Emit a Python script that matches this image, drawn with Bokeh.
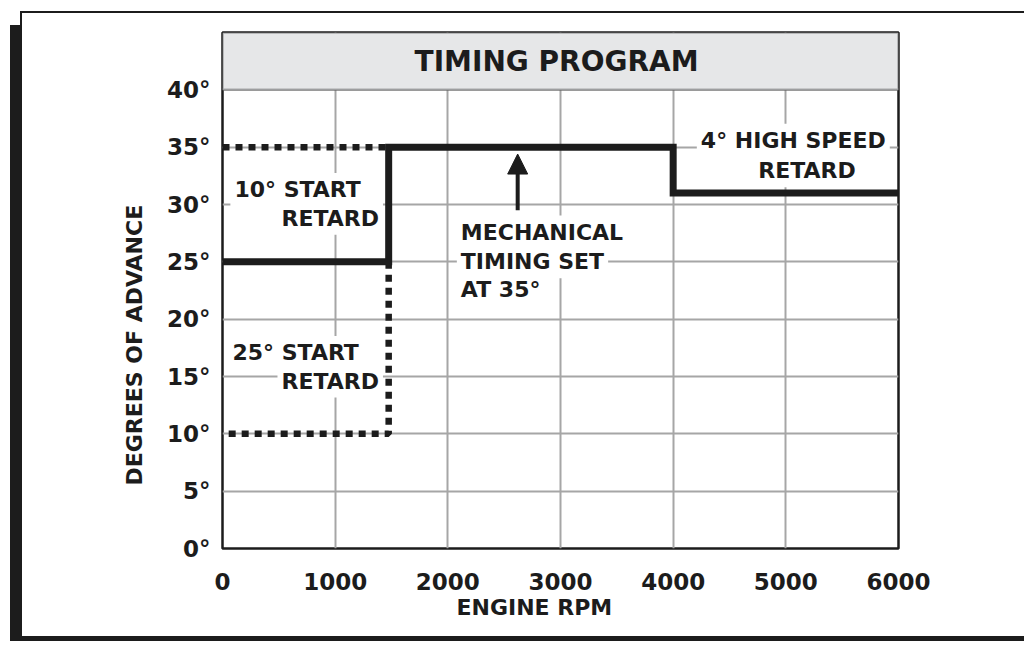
from bokeh.plotting import figure
from bokeh.models import (BoxAnnotation, Label, Arrow, NormalHead, FixedTicker,
                          Range1d, ColumnDataSource, Title)
from bokeh.embed import file_html
from bokeh.resources import INLINE

# ---- data ----
x_ticks = [0, 1000, 2000, 3000, 4000, 5000, 6000]
x_tick_labels = ["0", "1000", "2000", "3000", "4000", "5000", "6000"]
y_ticks = [0, 5, 10, 15, 20, 25, 30, 35, 40]
y_tick_labels = ["0°", "5°", "10°", "15°", "20°", "25°", "30°", "35°", "40°"]

# mechanical timing program (solid)
mech_rpm = [0, 1475, 1475, 4000, 4000, 6000]
mech_deg = [25, 25, 35, 35, 31, 31]
# 10° start retard reference (dotted)
start10_rpm = [0, 1475]
start10_deg = [35, 35]
# 25° start retard reference (dotted)
start25_rpm = [1475, 1475, 0]
start25_deg = [25, 10, 10]

INK = "#1c1c1c"
FONT = "DejaVu Sans"

W, H = 1024, 641
p = figure(width=W, height=H,
           x_range=Range1d(0, 6000), y_range=Range1d(0, 45),
           output_backend="svg", toolbar_location=None,
           min_border_left=222, min_border_right=W - 898,
           min_border_top=32, min_border_bottom=H - 548)

# page frame: thin top/left rule with a heavy left/bottom shadow (CSS background)
g = f"linear-gradient({INK},{INK})"
p.styles = {
    "background-color": "white",
    "background-image": ", ".join([g] * 4),
    "background-position": "20px 11px, 20px 11px, 10px 25px, 10px 636px",
    "background-size": f"{W - 20}px 2px, 2px 14px, 12px {H - 25}px, {W - 10}px {H - 636}px",
    "background-repeat": "no-repeat",
}
p.border_fill_color = None
p.background_fill_color = "white"
p.outline_line_color = INK
p.outline_line_width = 2.5

# axes
p.xaxis.ticker = FixedTicker(ticks=x_ticks)
p.yaxis.ticker = FixedTicker(ticks=y_ticks)
p.xgrid.ticker = FixedTicker(ticks=x_ticks)
p.ygrid.ticker = FixedTicker(ticks=y_ticks)
p.xaxis.major_label_overrides = {t: l for t, l in zip(x_ticks, x_tick_labels)}
p.yaxis.major_label_overrides = {t: l for t, l in zip(y_ticks, y_tick_labels)}
for ax in (p.xaxis, p.yaxis):
    ax.axis_line_color = None
    ax.major_tick_line_color = None
    ax.minor_tick_line_color = None
    ax.major_label_text_font = FONT
    ax.major_label_text_font_style = "bold"
    ax.major_label_text_font_size = "23px"
    ax.major_label_text_color = INK
p.xaxis.major_label_standoff = 18
p.yaxis.major_label_standoff = 6

p.grid.grid_line_color = "#a6a6a6"
p.grid.grid_line_width = 2

# axis titles
p.add_layout(Title(text="DEGREES OF ADVANCE", align="left", offset=63,
                   standoff=34, text_font=FONT, text_font_style="bold",
                   text_font_size="22px", text_color=INK), "left")
p.add_layout(Title(text="ENGINE RPM", align="left", offset=234,
                   standoff=0, text_font=FONT, text_font_style="bold",
                   text_font_size="22px", text_color=INK), "below")

# title box
p.add_layout(BoxAnnotation(bottom=40, fill_color="#e6e7e8", fill_alpha=1,
                           line_color=INK, line_width=2.5))
p.add_layout(Label(x=2965, y=42.5, text="TIMING PROGRAM", text_font=FONT,
                   text_font_style="bold", text_font_size="28px",
                   text_color=INK, text_align="center", text_baseline="middle"))

# dotted reference lines
p.multi_line(xs=[start10_rpm, start25_rpm], ys=[start10_deg, start25_deg],
             line_color=INK, line_width=6.5, line_dash="7 6")
# solid program
src = ColumnDataSource(dict(x=mech_rpm, y=mech_deg))
p.line("x", "y", source=src, line_color=INK, line_width=7, line_join="miter")

# annotations
def lab(x, y, t, align="left"):
    p.add_layout(Label(x=x, y=y, text=t, text_font=FONT, text_font_style="bold",
                       text_font_size="22px", text_color=INK, text_align=align,
                       text_baseline="middle", background_fill_color="white",
                       background_fill_alpha=1, padding=4))

lab(70, 31.3, "10° START")
lab(488, 28.8, "RETARD")
lab(53, 17.1, "25° START")
lab(488, 14.6, "RETARD")
lab(4210, 35.6, "4° HIGH SPEED")
lab(4720, 32.95, "RETARD")
lab(2080, 27.6, "MECHANICAL")
lab(2080, 25.0, "TIMING SET")
lab(2080, 22.6, "AT 35°")

p.add_layout(Arrow(end=NormalHead(size=20, fill_color=INK, line_color=INK),
                   x_start=2620, y_start=29.5, x_end=2620, y_end=34.4,
                   line_color=INK, line_width=4))

open("out.html", "w").write(file_html(p, INLINE))
